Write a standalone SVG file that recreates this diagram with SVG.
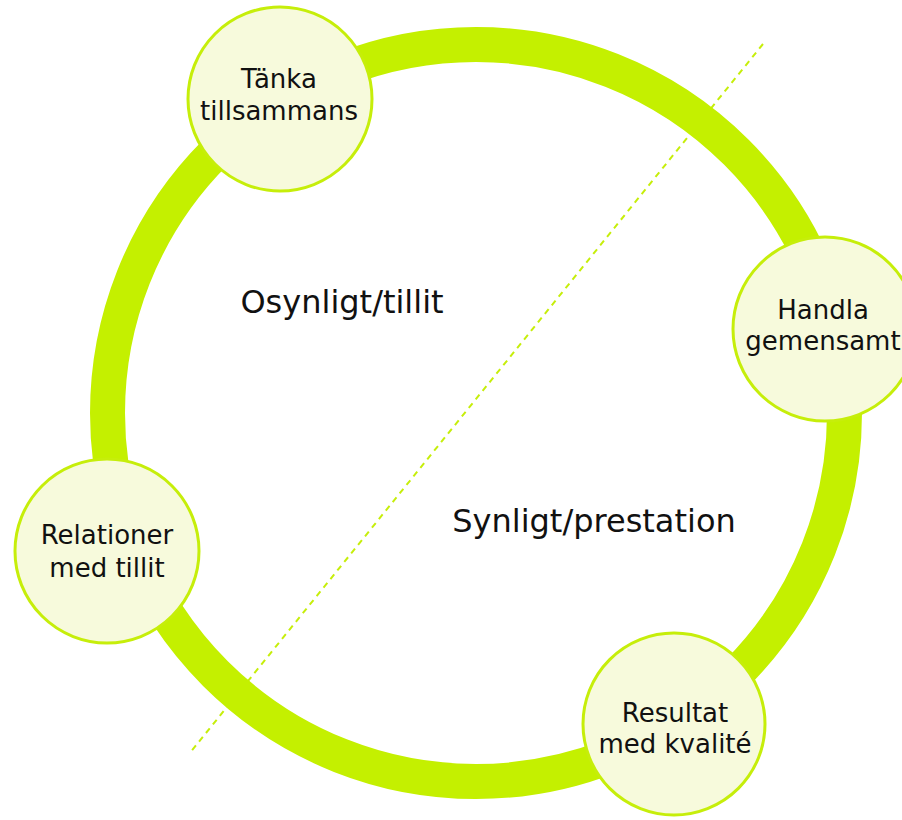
<svg xmlns="http://www.w3.org/2000/svg" width="902" height="820" viewBox="0 0 902 820">
<style>
.node{fill:#F7FADC;stroke:#C6EE0A;stroke-width:3}
.lbl{font-family:"DejaVu Sans",Verdana,sans-serif;font-size:26px;fill:#111;text-anchor:middle}
.big{font-family:"DejaVu Sans",Verdana,sans-serif;font-size:32px;fill:#111;text-anchor:middle}
</style>
<rect width="902" height="820" fill="#fff"/>
<g id="connectors">
<line x1="763" y1="44" x2="189" y2="754" stroke="#C6EE0A" stroke-width="2" stroke-dasharray="6,5"/>
<circle cx="476" cy="413" r="368.5" fill="none" stroke="#C4F000" stroke-width="35"/>
</g>
<g id="node-tanka">
<circle class="node" cx="280" cy="99" r="92"/>
<text class="lbl" x="279" y="88">Tänka</text>
<text class="lbl" x="279" y="120">tillsammans</text>
</g>
<g id="node-handla">
<circle class="node" cx="825" cy="329" r="92"/>
<text class="lbl" x="823" y="319">Handla</text>
<text class="lbl" x="823" y="350">gemensamt</text>
</g>
<g id="node-relationer">
<circle class="node" cx="107" cy="551" r="92"/>
<text class="lbl" x="107" y="544">Relationer</text>
<text class="lbl" x="107" y="577">med tillit</text>
</g>
<g id="node-resultat">
<circle class="node" cx="674" cy="724" r="91"/>
<text class="lbl" x="675" y="722">Resultat</text>
<text class="lbl" x="675" y="753">med kvalité</text>
</g>
<g id="labels">
<text class="big" x="342" y="313">Osynligt/tillit</text>
<text class="big" x="594" y="532">Synligt/prestation</text>
</g>
</svg>
